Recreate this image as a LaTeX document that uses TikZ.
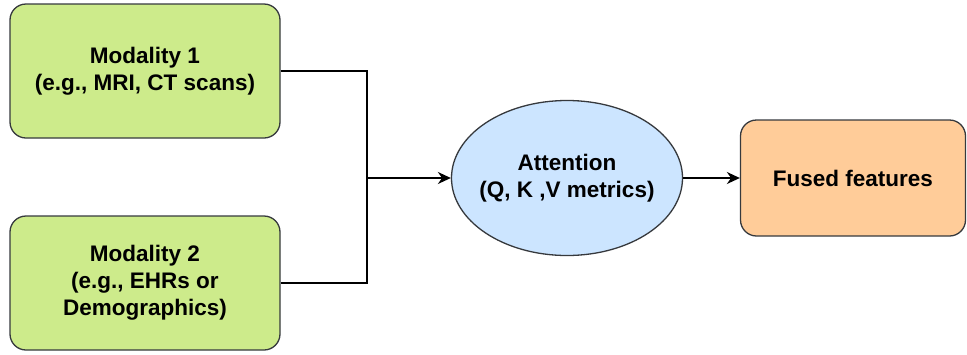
\documentclass[tikz,border=0pt]{standalone}
\usepackage{fontspec}
\setmainfont{Liberation Sans}
\usetikzlibrary{shapes.geometric,arrows.meta}
\definecolor{boxgreen}{HTML}{CDEB8B}
\definecolor{boxblue}{HTML}{CCE5FF}
\definecolor{boxorange}{HTML}{FFCC99}
\definecolor{edge}{HTML}{36393D}
\begin{document}
\begin{tikzpicture}[x=1pt,y=-1pt,
  base/.style={draw=edge,line width=1.3pt,font=\fontsize{22.5}{27}\selectfont\bfseries,align=center,inner sep=0pt},
  rbox/.style={base,rectangle,rounded corners=16pt},
  conn/.style={line width=1.6pt,black},
  arr/.style={conn,-{Stealth[length=13pt,width=12pt]}}]
\useasboundingbox (0,0) rectangle (967,354);
\node[rbox,fill=boxgreen,minimum width=270pt,minimum height=134pt] (m1) at (145,71) {Modality 1\\(e.g., MRI, CT scans)};
\node[rbox,fill=boxgreen,minimum width=270pt,minimum height=134pt] (m2) at (145,283) {Modality 2\\(e.g., EHRs or\\Demographics)};
\node[base,ellipse,fill=boxblue,inner xsep=-12pt,minimum width=231pt,minimum height=155pt] (att) at (567,178) {Attention\\(Q, K ,V metrics)};
\node[rbox,fill=boxorange,minimum width=225pt,minimum height=116pt] (fus) at (853,178) {Fused features};
\coordinate (j) at (367,178);
\draw[conn] (m1.east) -| (j);
\draw[conn] (m2.east) -| (j);
\draw[arr] (j) -- (att.west);
\draw[arr] (att.east) -- (fus.west);
\end{tikzpicture}
\end{document}
